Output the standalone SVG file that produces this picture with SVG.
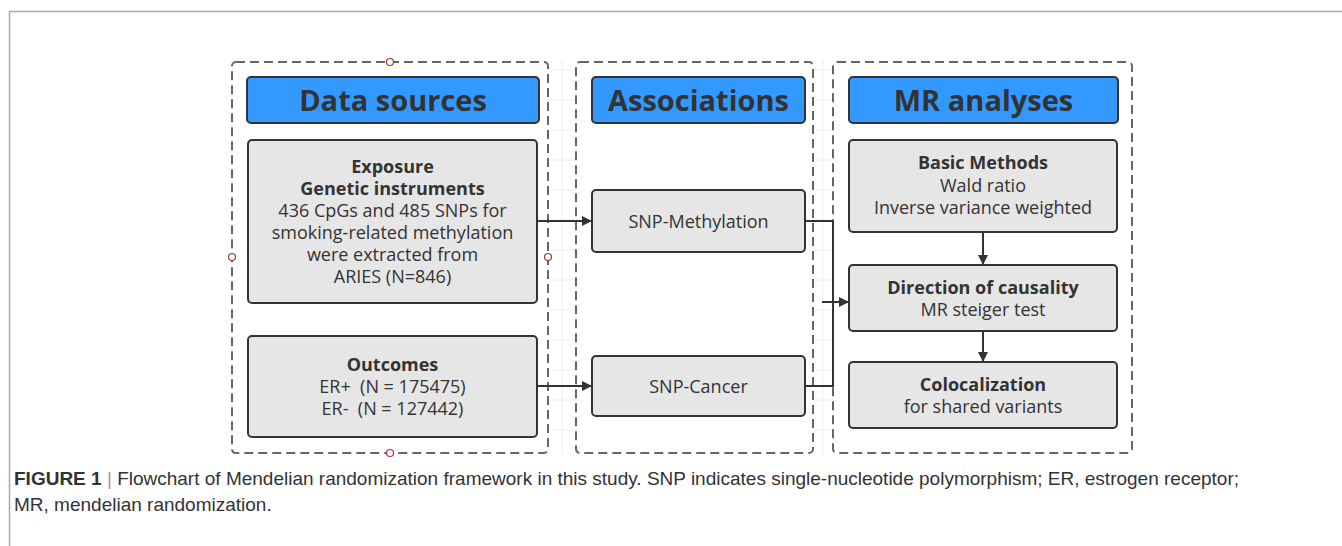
<svg xmlns="http://www.w3.org/2000/svg" width="1342" height="546" viewBox="0 0 1342 546">
<defs>
<style>
.frame{fill:none;stroke:#aaa;stroke-width:1.5}
.cont{fill:none;stroke:#666;stroke-width:2;stroke-dasharray:9 5}
.hdr{fill:#3399ff;stroke:#333;stroke-width:2}
.box{fill:#e6e6e6;stroke:#333;stroke-width:2}
.ht{font-family:"Open Sans","Noto Sans",sans-serif;font-weight:bold;font-size:29px;fill:#333;text-anchor:middle}
.bt{font-family:"Open Sans","Noto Sans",sans-serif;font-weight:bold;font-size:18px;fill:#333;text-anchor:middle}
.nt{font-family:"Open Sans","Noto Sans",sans-serif;font-size:18px;fill:#333;text-anchor:middle}
.ln{fill:none;stroke:#333;stroke-width:2}
.pt{fill:#fff;stroke:#a33;stroke-width:1.2}
.cap{font-family:"Liberation Sans",Arial,sans-serif;font-size:19px;fill:#333}
.grid{stroke:#eee;stroke-width:1}
</style>
<marker id="ah" viewBox="0 0 10 10" refX="10" refY="5" markerWidth="5" markerHeight="5" orient="auto" markerUnits="strokeWidth">
<path d="M0,0 L10,5 L0,10 z" fill="#333"/>
</marker>
</defs>
<rect width="1342" height="546" fill="#fff"/>
<path class="frame" d="M9.5,546 V11.5 H1342"/>
<g id="grid">
<path class="grid" d="M548,70 H576 M548,100 H576 M548,130 H576 M548,160 H576 M548,190 H576 M548,220 H576 M548,250 H576 M548,280 H576 M548,310 H576 M548,340 H576 M548,370 H576 M548,400 H576 M548,430 H576 M813,70 H833 M813,100 H833 M813,130 H833 M813,160 H833 M813,190 H833 M813,220 H833 M813,250 H833 M813,280 H833 M813,310 H833 M813,340 H833 M813,370 H833 M813,400 H833 M813,430 H833 M562,60 V455 M823,60 V455"/>
</g>
<g id="containers">
<rect class="cont" x="232" y="62" width="316" height="391" rx="4"/>
<rect class="cont" x="576" y="62" width="237" height="391" rx="4"/>
<rect class="cont" x="833" y="62" width="299" height="391" rx="4"/>
<circle class="pt" cx="390" cy="62" r="3.5"/>
<circle class="pt" cx="390" cy="453" r="3.5"/>
<circle class="pt" cx="232" cy="257" r="3.5"/>
<circle class="pt" cx="548" cy="257" r="3.5"/>
</g>
<g id="connectors">
<path class="ln" d="M537,221 H592" marker-end="url(#ah)"/>
<path class="ln" d="M537,386 H592" marker-end="url(#ah)"/>
<path class="ln" d="M805,221 H833 V386 H805"/>
<path class="ln" d="M822,302 H849" marker-end="url(#ah)"/>
<path class="ln" d="M983,232 V265" marker-end="url(#ah)"/>
<path class="ln" d="M983,331 V362" marker-end="url(#ah)"/>
</g>
<g id="hdr-data">
<rect class="hdr" x="247" y="77" width="292" height="46" rx="4"/>
<text class="ht" x="393" y="111">Data sources</text>
</g>
<g id="hdr-assoc">
<rect class="hdr" x="592" y="77" width="213" height="46" rx="4"/>
<text class="ht" x="698.5" y="111">Associations</text>
</g>
<g id="hdr-mr">
<rect class="hdr" x="849" y="77" width="269" height="46" rx="4"/>
<text class="ht" x="983.5" y="111">MR analyses</text>
</g>
<g id="exposure">
<rect class="box" x="248" y="140" width="289" height="163" rx="4"/>
<text class="bt" x="392.5" y="173">Exposure</text>
<text class="bt" x="392.5" y="195">Genetic instruments</text>
<text class="nt" x="392.5" y="217">436 CpGs and 485 SNPs for</text>
<text class="nt" x="392.5" y="239">smoking-related methylation</text>
<text class="nt" x="392.5" y="261">were extracted from</text>
<text class="nt" x="392.5" y="283">ARIES (N=846)</text>
</g>
<g id="outcomes">
<rect class="box" x="248" y="336" width="289" height="101" rx="4"/>
<text class="bt" x="392.5" y="371">Outcomes</text>
<text class="nt" x="392.5" y="393" xml:space="preserve">ER+  (N = 175475)</text>
<text class="nt" x="392.5" y="415" xml:space="preserve">ER-  (N = 127442)</text>
</g>
<g id="snp-meth">
<rect class="box" x="592" y="190" width="213" height="62" rx="4"/>
<text class="nt" x="698.5" y="228">SNP-Methylation</text>
</g>
<g id="snp-cancer">
<rect class="box" x="592" y="356" width="213" height="60" rx="4"/>
<text class="nt" x="698.5" y="393">SNP-Cancer</text>
</g>
<g id="basic">
<rect class="box" x="849" y="140" width="268" height="92" rx="4"/>
<text class="bt" x="983" y="169">Basic Methods</text>
<text class="nt" x="983" y="192">Wald ratio</text>
<text class="nt" x="983" y="214">Inverse variance weighted</text>
</g>
<g id="direction">
<rect class="box" x="849" y="265" width="268" height="66" rx="4"/>
<text class="bt" x="983" y="294">Direction of causality</text>
<text class="nt" x="983" y="316">MR steiger test</text>
</g>
<g id="coloc">
<rect class="box" x="849" y="362" width="268" height="66" rx="4"/>
<text class="bt" x="983" y="391">Colocalization</text>
<text class="nt" x="983" y="413">for shared variants</text>
</g>
<g id="caption">
<text class="cap" x="14" y="485"><tspan font-weight="bold">FIGURE 1</tspan><tspan fill="#999"> | </tspan>Flowchart of Mendelian randomization framework in this study. SNP indicates single-nucleotide polymorphism; ER, estrogen receptor;</text>
<text class="cap" x="14" y="511">MR, mendelian randomization.</text>
</g>
</svg>
